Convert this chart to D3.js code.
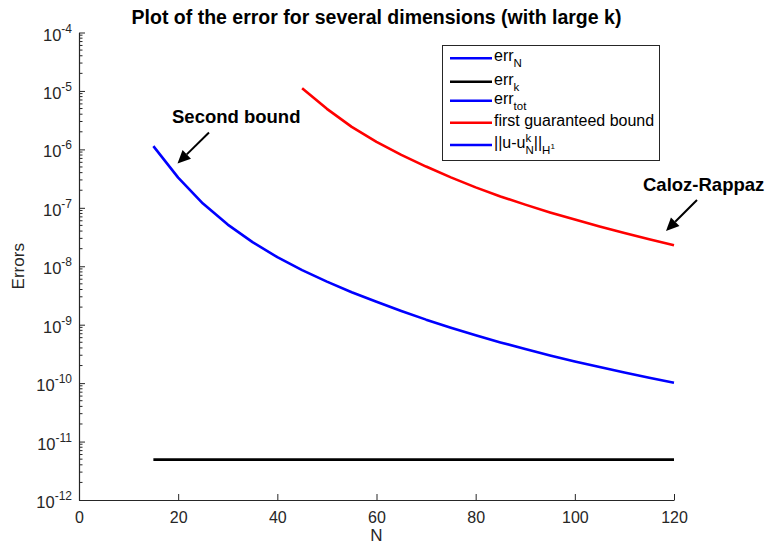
<!DOCTYPE html>
<html>
<head>
<meta charset="utf-8">
<script src="https://cdn.jsdelivr.net/npm/d3@7"></script>
<style>
  html, body { margin: 0; padding: 0; background: #fff; }
  svg { display: block; font-family: "Liberation Sans", Arial, Helvetica, sans-serif; }
</style>
</head>
<body>
<svg id="chart" width="766" height="544"></svg>
<script>
// Dimensions N for the computed errors
const nValues = [15, 20, 25, 30, 35, 40, 45, 50, 55, 60, 65, 70, 75, 80, 85, 90, 95, 100, 105, 110, 115, 120];
// Total error (err_N, err_tot and ||u-u_N^k||_H1 coincide)
const errTot = [1.139e-6, 3.29e-7, 1.18e-7, 5.16e-8, 2.59e-8, 1.43e-8, 8.58e-9, 5.45e-9, 3.60e-9, 2.47e-9, 1.72e-9,
                1.22e-9, 8.88e-10, 6.58e-10, 4.98e-10, 3.82e-10, 2.98e-10, 2.35e-10, 1.88e-10, 1.52e-10, 1.24e-10, 1.016e-10];
// Truncation error in k
const errK = [4.9e-12, 4.9e-12, 4.9e-12, 4.9e-12, 4.9e-12, 4.9e-12, 4.9e-12, 4.9e-12, 4.9e-12, 4.9e-12, 4.9e-12,
              4.9e-12, 4.9e-12, 4.9e-12, 4.9e-12, 4.9e-12, 4.9e-12, 4.9e-12, 4.9e-12, 4.9e-12, 4.9e-12, 4.9e-12];
// First guaranteed bound (Caloz-Rappaz), available from N = 45
const boundN = [45, 50, 55, 60, 65, 70, 75, 80, 85, 90, 95, 100, 105, 110, 115, 120];
const firstBound = [1.11e-5, 4.94e-6, 2.43e-6, 1.344e-6, 8.05e-7, 5.08e-7, 3.315e-7, 2.235e-7, 1.567e-7, 1.134e-7,
                    8.34e-8, 6.28e-8, 4.78e-8, 3.70e-8, 2.90e-8, 2.29e-8];
// Axis ticks
const xTicks = [0, 20, 40, 60, 80, 100, 120];
const yTickExponents = [-12, -11, -10, -9, -8, -7, -6, -5, -4];

const axisColor = "#262626";
const svg = d3.select("#chart");

const x = d3.scaleLinear().domain([0, 120]).range([79, 674]);
const y = d3.scaleLog().domain([1e-12, 1e-4]).range([500, 32.5]);

// Data lines
const line = d3.line().x(d => x(d[0])).y(d => y(d[1]));
const drawSeries = (xs, ys, color) => {
  svg.append("path")
    .datum(xs.map((n, i) => [n, ys[i]]))
    .attr("d", line)
    .attr("fill", "none")
    .attr("stroke", color)
    .attr("stroke-width", 2.6)
    .attr("stroke-linejoin", "round");
};
drawSeries(nValues, errK, "#000000");
drawSeries(nValues, errTot, "#0000ff");
drawSeries(boundN, firstBound, "#ff0000");

// Axes (left and bottom only, ticks pointing inward)
const xAxis = d3.axisBottom(x).tickValues(xTicks).tickSizeInner(-6).tickSizeOuter(0).tickPadding(12)
  .tickFormat(d3.format("d"));
const gx = svg.append("g").attr("transform", `translate(0,${y.range()[0]})`).call(xAxis);
gx.select(".domain").attr("stroke", axisColor).attr("stroke-width", 1.2);
gx.selectAll(".tick line").attr("stroke", axisColor).attr("stroke-width", 1);
gx.selectAll(".tick text").attr("fill", axisColor).attr("font-size", 16).attr("dy", "0.71em")
  .attr("font-family", "Liberation Sans, Arial, sans-serif");

const majorY = yTickExponents.map(e => Math.pow(10, e));
const yAxis = d3.axisLeft(y).tickValues(majorY).tickSizeInner(-6).tickSizeOuter(0).tickFormat("");
const gy = svg.append("g").attr("transform", `translate(${x.range()[0]},0)`).call(yAxis);
gy.select(".domain").attr("stroke", axisColor).attr("stroke-width", 1.2);
gy.selectAll(".tick line").attr("stroke", axisColor).attr("stroke-width", 1);

// Minor log ticks
const minorY = [];
yTickExponents.slice(0, -1).forEach(e => {
  for (let m = 2; m <= 9; m++) minorY.push(m * Math.pow(10, e));
});
svg.append("g").selectAll("line").data(minorY).join("line")
  .attr("x1", x.range()[0]).attr("x2", x.range()[0] + 3.5)
  .attr("y1", d => y(d)).attr("y2", d => y(d))
  .attr("stroke", axisColor).attr("stroke-width", 1);

// Power-of-ten tick labels
const yLabels = svg.append("g");
yTickExponents.forEach(e => {
  const t = yLabels.append("text")
    .attr("x", x.range()[0] - 7)
    .attr("y", y(Math.pow(10, e)) + 8)
    .attr("text-anchor", "end")
    .attr("fill", axisColor)
    .attr("font-size", 16.5);
  t.append("tspan").text("10");
  t.append("tspan").attr("dy", -8).attr("font-size", 12).text(String(e));
});

// Axis titles
svg.append("text")
  .attr("x", (x.range()[0] + x.range()[1]) / 2).attr("y", 541)
  .attr("text-anchor", "middle").attr("fill", axisColor).attr("font-size", 17)
  .text("N");
svg.append("text")
  .attr("transform", `translate(24,${(y.range()[0] + y.range()[1]) / 2}) rotate(-90)`)
  .attr("text-anchor", "middle").attr("fill", axisColor).attr("font-size", 17)
  .text("Errors");

// Title
svg.append("text")
  .attr("x", (x.range()[0] + x.range()[1]) / 2).attr("y", 24)
  .attr("text-anchor", "middle").attr("font-weight", "bold").attr("font-size", 19.5)
  .attr("fill", "#000")
  .text("Plot of the error for several dimensions (with large k)");

// Legend
const legendColors = ["#0000ff", "#000000", "#0000ff", "#ff0000", "#0000ff"];
const legendRowY = [58.3, 81.7, 100.7, 122.7, 145];
const legendFont = 16;
const legend = svg.append("g");
legend.append("rect")
  .attr("x", 442.5).attr("y", 45.5).attr("width", 217).attr("height", 115)
  .attr("fill", "#fff").attr("stroke", axisColor).attr("stroke-width", 1);

const measure = (txt, size) => {
  const t = svg.append("text").attr("font-size", size).text(txt);
  const w = t.node().getComputedTextLength();
  t.remove();
  return w;
};
// Draws pieces of text: each piece has text, size, baseline offset, and whether it advances x
const drawRich = (x0, base, pieces) => {
  let cx = x0;
  const g = legend.append("g");
  pieces.forEach(p => {
    g.append("text").attr("x", cx).attr("y", base + (p.dy || 0))
      .attr("font-size", p.size).attr("fill", "#000").text(p.t);
    if (p.advance !== false) cx += measure(p.t, p.size);
  });
};

const sub = 11.5;
const labelPieces = [
  [{t: "err", size: legendFont}, {t: "N", size: sub, dy: 6}],
  [{t: "err", size: legendFont}, {t: "k", size: sub, dy: 6}],
  [{t: "err", size: legendFont}, {t: "tot", size: sub, dy: 6}],
  [{t: "first guaranteed bound", size: legendFont}],
  [{t: "||u-u", size: legendFont}, {t: "k", size: sub, dy: -6, advance: false}, {t: "N", size: sub, dy: 6},
   {t: "||", size: legendFont}, {t: "H", size: sub, dy: 6}, {t: "1", size: 8, dy: 1}]
];

legendColors.forEach((c, i) => {
  legend.append("line")
    .attr("x1", 450).attr("x2", 492)
    .attr("y1", legendRowY[i]).attr("y2", legendRowY[i])
    .attr("stroke", c).attr("stroke-width", 2.6);
  drawRich(494, legendRowY[i] + 3, labelPieces[i]);
});

// Annotations with arrows
const arrow = (x1, y1, x2, y2) => {
  const ang = Math.atan2(y2 - y1, x2 - x1);
  const headLen = 13, headHalf = 6;
  const bx = x2 - headLen * Math.cos(ang), by = y2 - headLen * Math.sin(ang);
  svg.append("line").attr("x1", x1).attr("y1", y1).attr("x2", bx).attr("y2", by)
    .attr("stroke", "#000").attr("stroke-width", 2);
  const px = -Math.sin(ang) * headHalf, py = Math.cos(ang) * headHalf;
  svg.append("path")
    .attr("d", `M${x2},${y2}L${bx + px},${by + py}L${bx - px},${by - py}Z`)
    .attr("fill", "#000");
};
svg.append("text").attr("x", 172).attr("y", 123.3)
  .attr("font-weight", "bold").attr("font-size", 18.5).attr("fill", "#000")
  .text("Second bound");
arrow(209, 132.5, 177.5, 163.5);

svg.append("text").attr("x", 643).attr("y", 191)
  .attr("font-weight", "bold").attr("font-size", 18.5).attr("fill", "#000")
  .text("Caloz-Rappaz");
arrow(697, 200, 666, 231);
</script>
</body>
</html>
